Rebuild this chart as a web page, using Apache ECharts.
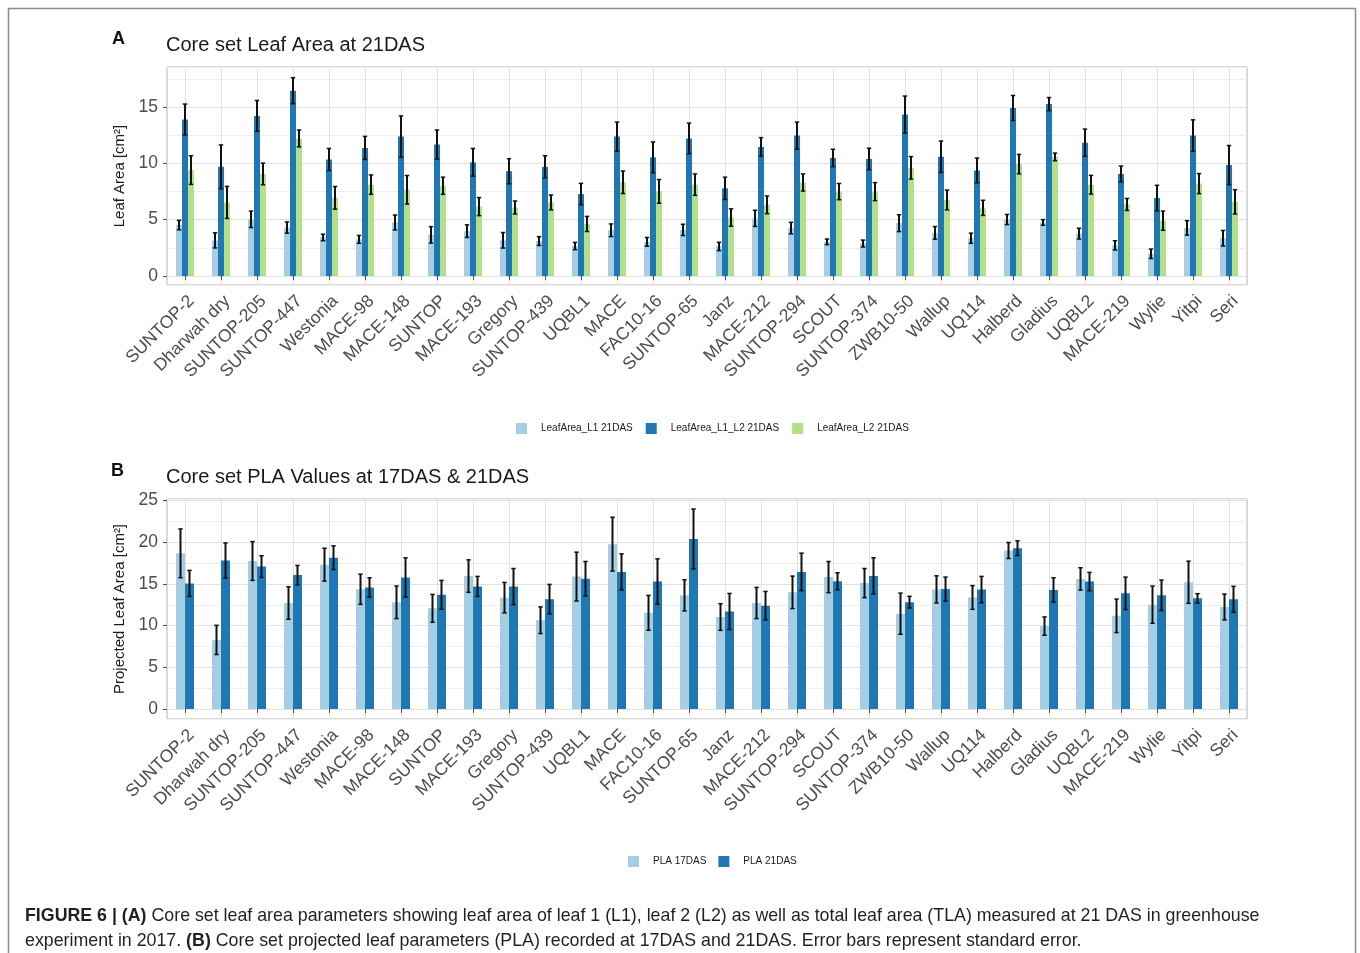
<!DOCTYPE html>
<html>
<head>
<meta charset="utf-8">
<title>Core set leaf area</title>
<script src="https://cdn.jsdelivr.net/npm/echarts@6/dist/echarts.min.js"></script>
<style>
  html, body { margin: 0; padding: 0; background: #fff; }
  #main { width: 1360px; height: 953px; }
</style>
</head>
<body>
<div id="main"></div>
<script>
var myChart = echarts.init(document.getElementById('main'));

// genotypes, same order in both panels
var categories = ['SUNTOP-2', 'Dharwah dry', 'SUNTOP-205', 'SUNTOP-447', 'Westonia', 'MACE-98', 'MACE-148',
    'SUNTOP', 'MACE-193', 'Gregory', 'SUNTOP-439', 'UQBL1', 'MACE', 'FAC10-16', 'SUNTOP-65', 'Janz',
    'MACE-212', 'SUNTOP-294', 'SCOUT', 'SUNTOP-374', 'ZWB10-50', 'Wallup', 'UQ114', 'Halberd', 'Gladius',
    'UQBL2', 'MACE-219', 'Wylie', 'Yitpi', 'Seri'];

// panel A : leaf area 21DAS (mean, standard error)
var leafL1 = [4.52, 3.16, 5.03, 4.30, 3.42, 3.25, 4.75, 3.65, 3.98, 3.17, 3.10, 2.66, 4.06, 3.03, 4.09, 2.62,
    5.12, 4.25, 3.03, 2.88, 4.69, 3.83, 3.35, 5.01, 4.75, 3.76, 2.72, 1.97, 4.27, 3.35];
var leafL1Err = [0.42, 0.67, 0.73, 0.50, 0.29, 0.35, 0.66, 0.73, 0.56, 0.69, 0.39, 0.32, 0.56, 0.39, 0.50, 0.37,
    0.72, 0.51, 0.25, 0.31, 0.75, 0.56, 0.45, 0.45, 0.25, 0.48, 0.41, 0.42, 0.64, 0.69];
var leafL1L2 = [13.89, 9.69, 14.21, 16.45, 10.34, 11.37, 12.37, 11.67, 10.09, 9.30, 9.69, 7.27, 12.37, 10.53,
    12.21, 7.78, 11.45, 12.46, 10.48, 10.39, 14.33, 10.58, 9.37, 14.91, 15.26, 11.83, 9.06, 6.92, 12.46, 9.85];
var leafL1L2Err = [1.37, 1.94, 1.37, 1.15, 0.98, 1.02, 1.84, 1.29, 1.23, 1.11, 0.98, 0.95, 1.29, 1.37, 1.36,
    0.99, 0.83, 1.20, 0.77, 0.95, 1.64, 1.40, 1.10, 1.11, 0.58, 1.21, 0.70, 1.13, 1.40, 1.73];
var leafL2 = [9.40, 6.53, 9.06, 12.21, 6.94, 8.11, 7.65, 8.01, 6.16, 6.08, 6.53, 4.62, 8.32, 7.51, 8.11, 5.19,
    6.32, 8.30, 7.49, 7.49, 9.60, 6.75, 6.05, 9.93, 10.57, 8.10, 6.35, 4.91, 8.20, 6.58];
var leafL2Err = [1.27, 1.42, 0.96, 0.75, 1.00, 0.86, 1.27, 0.76, 0.80, 0.58, 0.66, 0.67, 1.00, 1.05, 0.95, 0.77,
    0.79, 0.76, 0.72, 0.80, 1.00, 0.88, 0.67, 0.86, 0.34, 0.83, 0.53, 0.85, 0.89, 1.08];

// panel B : projected leaf area (mean, standard error)
var pla17 = [18.68, 8.29, 17.76, 12.72, 17.32, 14.37, 12.80, 12.08, 15.95, 13.36, 10.65, 15.89, 19.78, 11.54,
    13.64, 11.04, 12.72, 14.00, 15.83, 15.11, 11.44, 14.35, 13.38, 19.02, 9.95, 15.61, 11.18, 12.52, 15.21, 12.24];
var pla17Err = [2.93, 1.75, 2.33, 1.95, 1.97, 1.81, 1.95, 1.67, 1.95, 1.83, 1.60, 2.93, 3.23, 2.09, 1.87, 1.60,
    1.87, 1.95, 1.87, 1.75, 2.47, 1.63, 1.42, 0.96, 1.10, 1.34, 2.01, 2.23, 2.53, 1.55];
var pla21 = [15.07, 17.82, 17.09, 16.07, 18.16, 14.59, 15.79, 13.70, 14.71, 14.69, 13.18, 15.63, 16.45, 15.29,
    20.41, 11.70, 12.40, 16.45, 15.33, 15.97, 12.82, 14.39, 14.33, 19.30, 14.29, 15.29, 13.88, 13.64, 13.28, 13.16];
var pla21Err = [1.56, 2.11, 1.30, 1.16, 1.42, 1.16, 2.35, 1.73, 1.20, 2.17, 1.77, 2.07, 2.17, 2.73, 3.59, 2.17,
    1.71, 2.25, 1.02, 2.17, 0.70, 1.44, 1.58, 0.88, 1.46, 1.10, 1.95, 1.83, 0.56, 1.56];

var namesA = ['LeafArea_L1 21DAS', 'LeafArea_L1_L2 21DAS', 'LeafArea_L2 21DAS'];
var namesB = ['PLA 17DAS', 'PLA 21DAS'];

var FONT = 'Liberation Sans, Arial, sans-serif';
var LIGHT = '#a6cee3', DARK = '#1f78b4', GREEN = '#b2df8a';

function errData(mean, err) {
    return mean.map(function (m, i) {
        return [i, m - err[i], m + err[i]];
    });
}

// error bar drawn at the centre of the k-th bar of a group
function errorBars(k, count, barW) {
    return function (params, api) {
        var idx = api.value(0);
        var lo = api.coord([idx, api.value(1)]);
        var hi = api.coord([idx, api.value(2)]);
        var x = lo[0] + (k - (count - 1) / 2) * barW;
        var cap = 2.2;
        var st = { stroke: '#111', lineWidth: 2 };
        return {
            type: 'group',
            children: [
                { type: 'line', shape: { x1: x, y1: hi[1], x2: x, y2: lo[1] }, style: st },
                { type: 'line', shape: { x1: x - cap, y1: hi[1], x2: x + cap, y2: hi[1] }, style: { stroke: '#111', lineWidth: 1.5 } },
                { type: 'line', shape: { x1: x - cap, y1: lo[1], x2: x + cap, y2: lo[1] }, style: { stroke: '#111', lineWidth: 1.5 } }
            ]
        };
    };
}

function catAxis(gridIndex) {
    return {
        type: 'category',
        gridIndex: gridIndex,
        data: categories,
        axisLine: { show: false },
        axisTick: { show: true, alignWithLabel: true, length: 4, lineStyle: { color: '#4d4d4d' } },
        splitLine: { show: true, alignWithLabel: true, lineStyle: { color: '#e3e3e3', width: 1 } },
        axisLabel: { interval: 0, rotate: 45, margin: 7, verticalAlign: 'top', fontSize: 17.5, color: '#4d4d4d', fontFamily: FONT }
    };
}

function mainY(gridIndex, min, max, split, name) {
    return {
        type: 'value',
        gridIndex: gridIndex,
        min: min,
        max: max,
        splitNumber: split,
        name: name,
        nameLocation: 'middle',
        nameGap: 35,
        nameTextStyle: { fontSize: 15, color: '#1a1a1a', fontFamily: FONT },
        axisLine: { show: false },
        axisTick: { show: true, length: 4, lineStyle: { color: '#4d4d4d' } },
        axisLabel: { showMinLabel: false, showMaxLabel: false, margin: 9, fontSize: 17.5, color: '#4d4d4d', fontFamily: FONT },
        splitLine: { show: true, lineStyle: { color: '#e1e1e1', width: 1 } }
    };
}

// same scale shifted half a step: only draws the minor grid lines
function minorY(gridIndex, min, max, split) {
    return {
        type: 'value',
        gridIndex: gridIndex,
        min: min,
        max: max,
        splitNumber: split,
        axisLine: { show: false },
        axisTick: { show: false },
        axisLabel: { show: false },
        splitLine: { show: true, lineStyle: { color: '#efefef', width: 1 } }
    };
}

function barSeries(name, data, color, xi, yi, w) {
    return {
        name: name,
        type: 'bar',
        xAxisIndex: xi,
        yAxisIndex: yi,
        data: data,
        barWidth: w,
        barGap: '0%',
        itemStyle: { color: color },
        z: 2
    };
}

function errSeries(mean, err, k, count, xi, yi, w) {
    return {
        type: 'custom',
        xAxisIndex: xi,
        yAxisIndex: yi,
        data: errData(mean, err),
        encode: { x: 0, y: [1, 2] },
        renderItem: errorBars(k, count, w),
        silent: true,
        z: 5
    };
}

function legendAt(names, left, top, gap) {
    return {
        data: names,
        left: left,
        top: top,
        padding: 0,
        icon: 'rect',
        itemWidth: 11,
        itemHeight: 11,
        itemGap: gap,
        textStyle: { fontSize: 10, color: '#1a1a1a', fontFamily: FONT, padding: [0, 0, 0, 9] }
    };
}

option = {
    animation: false,
    backgroundColor: '#fff',
    textStyle: { fontFamily: FONT },
    title: [
        { text: 'A', left: 112, top: 30, padding: 0, textStyle: { fontSize: 18, fontWeight: 'bold', color: '#111', fontFamily: FONT } },
        { text: 'Core set Leaf Area at 21DAS', left: 166, top: 35, padding: 0, textStyle: { fontSize: 20, fontWeight: 'normal', color: '#1a1a1a', fontFamily: FONT } },
        { text: 'B', left: 111, top: 462, padding: 0, textStyle: { fontSize: 18, fontWeight: 'bold', color: '#111', fontFamily: FONT } },
        { text: 'Core set PLA Values at 17DAS & 21DAS', left: 166, top: 467, padding: 0, textStyle: { fontSize: 20, fontWeight: 'normal', color: '#1a1a1a', fontFamily: FONT } }
    ],
    legend: [
        legendAt(namesA, 516, 423, 13),
        legendAt(namesB, 628, 856, 12)
    ],
    grid: [
        { left: 167, top: 67, width: 1080, height: 218, show: true, borderColor: '#b3b3b3', borderWidth: 1, backgroundColor: 'transparent' },
        { left: 167, top: 499, width: 1080, height: 220, show: true, borderColor: '#b3b3b3', borderWidth: 1, backgroundColor: 'transparent' }
    ],
    xAxis: [catAxis(0), catAxis(1)],
    yAxis: [
        mainY(0, -0.8, 18.55, 4, 'Leaf Area [cm²]'),
        minorY(0, -3.3, 16.05, 4),
        mainY(1, -1.2, 25.2, 5, 'Projected Leaf Area [cm²]'),
        minorY(1, -3.7, 22.7, 5)
    ],
    series: [
        barSeries(namesA[0], leafL1, LIGHT, 0, 0, 6),
        barSeries(namesA[1], leafL1L2, DARK, 0, 0, 6),
        barSeries(namesA[2], leafL2, GREEN, 0, 0, 6),
        errSeries(leafL1, leafL1Err, 0, 3, 0, 0, 6),
        errSeries(leafL1L2, leafL1L2Err, 1, 3, 0, 0, 6),
        errSeries(leafL2, leafL2Err, 2, 3, 0, 0, 6),
        barSeries(namesB[0], pla17, LIGHT, 1, 2, 9),
        barSeries(namesB[1], pla21, DARK, 1, 2, 9),
        errSeries(pla17, pla17Err, 0, 2, 1, 2, 9),
        errSeries(pla21, pla21Err, 1, 2, 1, 2, 9)
    ],
    graphic: [
        {
            type: 'rect',
            silent: true,
            shape: { x: 8.5, y: 8.5, width: 1347, height: 1000 },
            style: { fill: 'none', stroke: '#8c8c8c', lineWidth: 1.5 }
        },
        {
            type: 'text',
            left: 25,
            top: 907,
            silent: true,
            style: {
                text: '{b|FIGURE 6 | (A)} Core set leaf area parameters showing leaf area of leaf 1 (L1), leaf 2 (L2) as well as total leaf area (TLA) measured at 21 DAS in greenhouse',
                fontSize: 17.8,
                fontFamily: FONT,
                fill: '#231f20',
                rich: { b: { fontWeight: 'bold', fontSize: 17.8, fontFamily: FONT, fill: '#231f20' } }
            }
        },
        {
            type: 'text',
            left: 25,
            top: 932,
            silent: true,
            style: {
                text: 'experiment in 2017. {b|(B)} Core set projected leaf parameters (PLA) recorded at 17DAS and 21DAS. Error bars represent standard error.',
                fontSize: 17.8,
                fontFamily: FONT,
                fill: '#231f20',
                rich: { b: { fontWeight: 'bold', fontSize: 17.8, fontFamily: FONT, fill: '#231f20' } }
            }
        }
    ]
};

myChart.setOption(option);
window.onresize = myChart.resize;
</script>
</body>
</html>
